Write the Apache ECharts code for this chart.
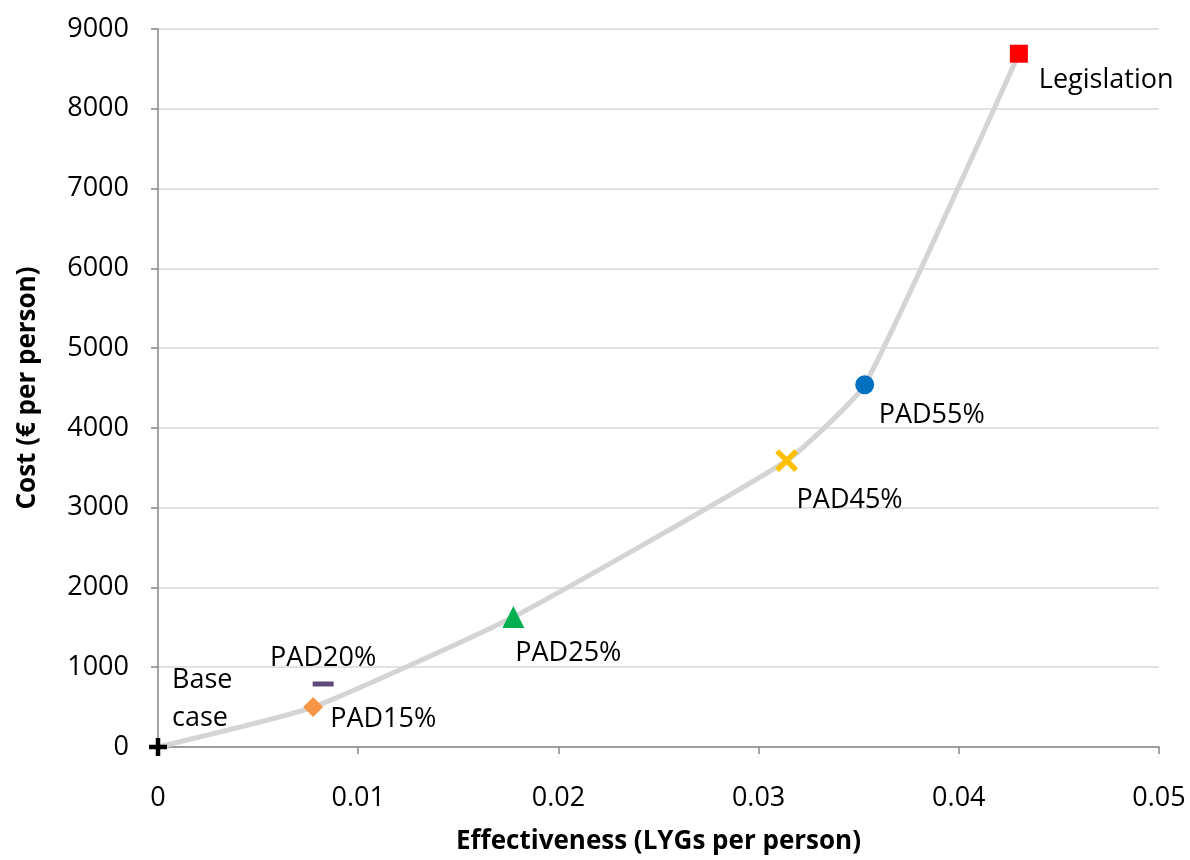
<!DOCTYPE html>
<html>
<head>
<meta charset="utf-8">
<script src="https://cdn.jsdelivr.net/npm/echarts@6/dist/echarts.min.js"></script>
<style>
  html, body { margin: 0; padding: 0; background: #fff; }
  #chart { width: 1190px; height: 860px; }
</style>
</head>
<body>
<div id="chart"></div>
<script>
// Strategies, their effectiveness (LYGs per person) and cost (€ per person)
const strategies = ['Base case', 'PAD15%', 'PAD20%', 'PAD25%', 'PAD45%', 'PAD55%', 'Legislation'];
const effectiveness = [0, 0.00775, 0.00825, 0.01775, 0.0314, 0.0353, 0.0430];
const cost = [0, 500, 790, 1630, 3590, 4540, 8690];
// Strategies on the efficiency frontier, in order
const frontier = ['Base case', 'PAD15%', 'PAD25%', 'PAD45%', 'PAD55%', 'Legislation'];

const FONT = '"Open Sans", "Liberation Sans", sans-serif';
const FS = 27;
const PLUS = 'path://M3,0H5V3H8V5H5V8H3V5H0V3H3Z';
const THIN_PLUS = 'path://M4,0H6V4H10V6H6V10H4V6H0V4H4Z';

// Marker and label look for each strategy
const markerStyle = {
  'Base case':   { symbol: PLUS, size: 18, rotate: 0, color: '#000000',
                   label: { position: 'right', offset: [0, -48], text: 'Base\ncase', lineHeight: 38 } },
  'PAD15%':      { symbol: 'diamond', size: 20, rotate: 0, color: '#F79646',
                   label: { position: 'right', offset: [2, 12] } },
  'PAD20%':      { symbol: 'rect', size: [21, 5], rotate: 0, color: '#604A7B',
                   label: { position: 'top', offset: [0, -2] } },
  'PAD25%':      { symbol: 'triangle', size: 22, rotate: 0, color: '#00B050',
                   label: { position: 'bottom', offset: [55, 4] } },
  'PAD45%':      { symbol: THIN_PLUS, size: 27, rotate: 45, color: '#FFC000',
                   label: { position: 'bottom', offset: [63, 0] } },
  'PAD55%':      { symbol: 'circle', size: 19, rotate: 0, color: '#0070C0',
                   label: { position: 'bottom', offset: [67, 0] } },
  'Legislation': { symbol: 'rect', size: 18, rotate: 0, color: '#FF0000',
                   label: { position: 'right', offset: [6, 27] } }
};

const pointSeries = strategies.map((name, i) => {
  const m = markerStyle[name];
  return {
    name: name,
    type: 'scatter',
    z: 5,
    symbol: m.symbol,
    symbolSize: m.size,
    symbolRotate: m.rotate,
    itemStyle: { color: m.color, opacity: 1 },
    data: [[effectiveness[i], cost[i]]],
    label: {
      show: true,
      position: m.label.position,
      offset: m.label.offset,
      formatter: m.label.text || name,
      color: '#000',
      fontFamily: FONT,
      fontSize: FS,
      lineHeight: m.label.lineHeight || 32
    }
  };
});

const frontierData = frontier.map(n => {
  const i = strategies.indexOf(n);
  return [effectiveness[i], cost[i]];
});

const chart = echarts.init(document.getElementById('chart'), null, { renderer: 'canvas' });
chart.setOption({
  animation: false,
  backgroundColor: '#fff',
  grid: { left: 158, right: 31, top: 29, bottom: 113, containLabel: false },
  xAxis: {
    type: 'value',
    min: 0, max: 0.05, interval: 0.01,
    name: 'Effectiveness (LYGs per person)',
    nameLocation: 'middle',
    nameGap: 82,
    nameTextStyle: { fontFamily: FONT, fontSize: 26, fontWeight: 'bold', color: '#000' },
    axisLine: { show: true, lineStyle: { color: '#868686', width: 1.5 } },
    axisTick: { show: true, inside: false, length: 7, lineStyle: { color: '#868686', width: 1.5 } },
    axisLabel: { fontFamily: FONT, fontSize: FS, color: '#000', margin: 38,
                 formatter: v => v === 0 ? '0' : v.toFixed(2) },
    splitLine: { show: false }
  },
  yAxis: {
    type: 'value',
    min: 0, max: 9000, interval: 1000,
    name: 'Cost (€ per person)',
    nameLocation: 'middle',
    nameGap: 117,
    nameTextStyle: { fontFamily: FONT, fontSize: 26, fontWeight: 'bold', color: '#000' },
    axisLine: { show: true, lineStyle: { color: '#868686', width: 1.5 } },
    axisTick: { show: true, inside: false, length: 7, lineStyle: { color: '#868686', width: 1.5 } },
    axisLabel: { fontFamily: FONT, fontSize: FS, color: '#000', margin: 29,
                 formatter: v => String(v) },
    splitLine: { show: true, lineStyle: { color: '#D9D9D9', width: 1.5 } }
  },
  series: [{
    name: 'frontier',
    type: 'line',
    z: 2,
    smooth: 0.15,
    symbol: 'none',
    lineStyle: { color: '#D4D4D4', width: 5 },
    data: frontierData,
    silent: true
  }].concat(pointSeries)
});
</script>
</body>
</html>
